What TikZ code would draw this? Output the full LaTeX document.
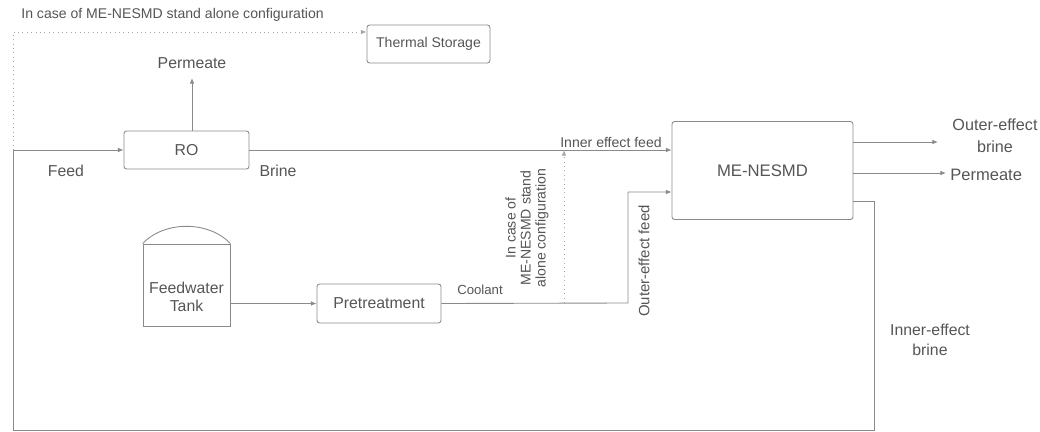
\documentclass[tikz,border=0pt]{standalone}
\usepackage{fontspec}
\setmainfont{Liberation Sans}
\usetikzlibrary{arrows.meta,positioning,calc}
\definecolor{pipe}{HTML}{8A8A8A}
\definecolor{ink}{HTML}{555555}
\tikzset{>={Latex[length=3.2pt,width=2.6pt]}, line/.style={draw=pipe, line width=0.5pt}, flow/.style={line, ->},
aux/.style={draw=pipe!75, line width=0.5pt, dotted}, box/.style={draw=pipe, line width=0.5pt, rounded corners=1.5pt, align=center, text=ink, inner sep=0pt},
note/.style={text=ink, align=center, inner sep=0pt}}
\newcommand{\fs}[1]{\fontsize{#1}{#1}\selectfont}

\begin{document}
\begin{tikzpicture}[x=0.2mm,y=-0.2mm]
\useasboundingbox (0,0) rectangle (1040,432);
% Units
\node[box, font=\fs{8}, minimum width=24.6mm, minimum height=7.6mm] (ts) at (428.5,44) {Thermal Storage};
\node[box, font=\fs{9}, minimum width=25mm, minimum height=7.6mm] (ro) at (186.5,150) {RO};
\node[box, font=\fs{9}, minimum width=24.8mm, minimum height=7.8mm] (pre) at (379,303.5) {Pretreatment};
\node[box, font=\fs{9.5}, minimum width=36.2mm, minimum height=19.6mm] (md) at (762.5,170.5) {ME-NESMD};
% Tank
\node[draw=pipe, line width=0.5pt, minimum width=17.4mm, minimum height=16.4mm, inner sep=0pt] (tank) at (186.5,285) {};
\draw[line] (tank.north west) .. controls +(22,-23) and +(-22,-23) .. (tank.north east);
\node[note, font=\fs{9}] (tanklbl) at (186.5,297) {Feedwater\\[1.5pt]Tank};
% Points
\coordinate (feedin) at (13,150);
\coordinate (topL) at (13,32);
\coordinate (perm) at (192,78);
\coordinate (tee) at (564,150);
\coordinate (cjoin) at (564,303);
\coordinate (cbend) at (628,303);
\coordinate (ofeed) at (628,192);
\coordinate (ob) at (938,142);
\coordinate (mp) at (946,173);
\coordinate (ib) at (874,201);
\coordinate (botR) at (874,430);
\coordinate (botL) at (13,430);
% Flows
\draw[flow] (feedin) -- (ro.west);
\draw[flow] (ro.north -| perm) -- (perm);
\draw[line] (ro.east) -- (tee);
\draw[flow] (tee) -- (md.west |- tee);
\draw[flow] (tank.east |- pre.west) -- (pre.west);
\draw[flow] (pre.east) -- (cbend) -- (ofeed) -- (md.west |- ofeed);
\draw[flow] (md.east |- ob) -- (ob);
\draw[flow] (md.east |- mp) -- (mp);
\draw[line] (md.east |- ib) -- (ib) -- (botR) -- (botL) -- (feedin);
% Stand alone
\draw[aux, ->] (feedin) -- (topL) -- (ts.west |- topL);
\draw[aux, ->] (cjoin) -- (tee);
% Labels
\node[note, font=\fs{8}, anchor=west] (salbl) at (21,15) {In case of ME-NESMD stand alone configuration};
\node[note, font=\fs{9}] (permlbl) at (192,63) {Permeate};
\node[note, font=\fs{9}] (feedlbl) at (66,171) {Feed};
\node[note, font=\fs{9}] (brinelbl) at (278,171) {Brine};
\node[note, font=\fs{7.5}] (coollbl) at (480,290) {Coolant};
\node[note, font=\fs{8}] (iflbl) at (611,142) {Inner effect feed};
\node[note, font=\fs{8}, rotate=90] (salbl2) at (527,228) {In case of\\[0.5pt]ME-NESMD stand\\[0.5pt]alone configuration};
\node[note, font=\fs{8.5}, rotate=90] (oflbl) at (644,261) {Outer-effect feed};
\node[note, font=\fs{9.2}] (oblbl) at (995,136) {Outer-effect\\[3.5pt]brine};
\node[note, font=\fs{9.4}, anchor=west] (mplbl) at (950,175) {Permeate};
\node[note, font=\fs{9}] (iblbl) at (930,340) {Inner-effect\\[2.4pt]brine};
\end{tikzpicture}
\end{document}
